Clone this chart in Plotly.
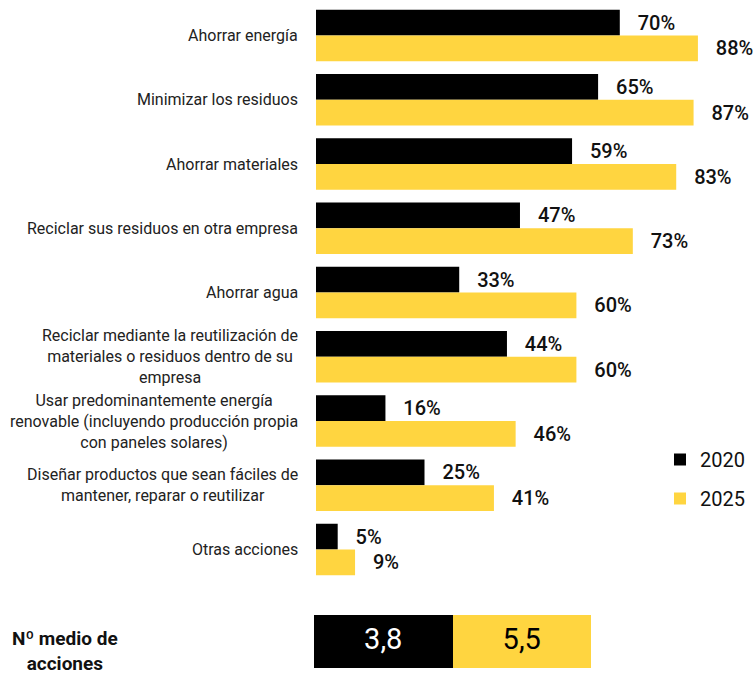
import plotly.graph_objects as go

categories = [
    "Ahorrar energía",
    "Minimizar los residuos",
    "Ahorrar materiales",
    "Reciclar sus residuos en otra empresa",
    "Ahorrar agua",
    "Reciclar mediante la reutilización de<br>materiales o residuos dentro de su<br>empresa",
    "Usar predominantemente energía<br>renovable (incluyendo producción propia<br>con paneles solares)",
    "Diseñar productos que sean fáciles de<br>mantener, reparar o reutilizar",
    "Otras acciones",
]
values_2020 = [70, 65, 59, 47, 33, 44, 16, 25, 5]
values_2025 = [88, 87, 83, 73, 60, 60, 46, 41, 9]
years = ["2020", "2025"]
mean_actions = [3.8, 5.5]
mean_label = "Nº medio de<br>acciones"

BLACK = "#000000"
YELLOW = "#FFD540"
FONT = "Roboto"

W, H = 755, 675
ml, mr, mt, mb = 0, 0, 3, 7
pw = W - ml - mr
ph = H - mt - mb

def px_x(p):
    return (p - ml) / pw

def px_y(p):
    return (H - mb - p) / ph

fig = go.Figure()
pad = "\u00a0\u00a0\u00a0"
for name, vals, col, grp in [(years[0], values_2020, BLACK, "a"), (years[1], values_2025, YELLOW, "b")]:
    fig.add_trace(go.Bar(
        y=categories, x=vals, name=name, orientation="h",
        marker=dict(color=col, line=dict(width=0)),
        text=[f"{pad}{v}%" for v in vals],
        textposition="outside", cliponaxis=False,
        textfont=dict(family=FONT, size=20, color="#111111", weight=500),
        legendgroup=grp, xaxis="x", yaxis="y",
        hoverinfo="skip",
    ))

# Mean number of actions: one cell per year
fig.add_trace(go.Heatmap(
    z=[mean_actions], x=years, y=["m"],
    colorscale=[[0, BLACK], [1, YELLOW]],
    zmin=min(mean_actions), zmax=max(mean_actions),
    showscale=False, xgap=0, ygap=0,
    xaxis="x2", yaxis="y2", hoverinfo="skip", showlegend=False,
))
fig.add_trace(go.Scatter(
    x=years, y=["m"] * len(years), mode="text",
    text=[f"{v:.1f}".replace(".", ",") for v in mean_actions],
    textposition="middle center",
    textfont=dict(family=FONT, size=29, color=["#FFFFFF", "#000000"]),
    xaxis="x2", yaxis="y2", hoverinfo="skip", showlegend=False,
))

for c in categories:
    fig.add_annotation(
        x=px_x(300), xref="paper", xanchor="right",
        y=c, yref="y", yanchor="middle",
        text=c, showarrow=False, align="center",
        font=dict(family=FONT, size=16, color="#222222"),
    )

fig.add_annotation(
    x=px_x(65), xref="paper", xanchor="center",
    y=px_y(651), yref="paper", yanchor="middle",
    text=f"<b>{mean_label}</b>", showarrow=False, align="center",
    font=dict(family=FONT, size=19, color="#111111"),
)

fig.update_layout(
    width=W, height=H,
    margin=dict(l=ml, r=mr, t=mt, b=mb),
    paper_bgcolor="white", plot_bgcolor="white",
    barmode="group", bargap=0.2, bargroupgap=0,
    font=dict(family=FONT),
    hovermode=False,
    xaxis=dict(domain=[px_x(316), px_x(316 + 434)], range=[0, 100], visible=False, fixedrange=True),
    yaxis=dict(domain=[px_y(581.7), px_y(3.4)], autorange="reversed",
               showticklabels=False, showgrid=False, zeroline=False, showline=False, ticks=""),
    xaxis2=dict(domain=[px_x(314), px_x(591)], anchor="y2", visible=False,
                type="category", range=[-0.5, 1.5]),
    yaxis2=dict(domain=[px_y(668), px_y(615)], anchor="x2", visible=False,
                type="category", range=[-0.5, 0.5]),
    legend=dict(
        x=px_x(660), y=px_y(440), xanchor="left", yanchor="top",
        font=dict(family=FONT, size=20, color="#111111"),
        traceorder="grouped", tracegroupgap=10,
        itemwidth=30, bgcolor="rgba(0,0,0,0)",
    ),
    showlegend=True,
)

fig.write_html("out.html", config={"displayModeBar": False},
               post_script="document.body.style.margin='0';")
